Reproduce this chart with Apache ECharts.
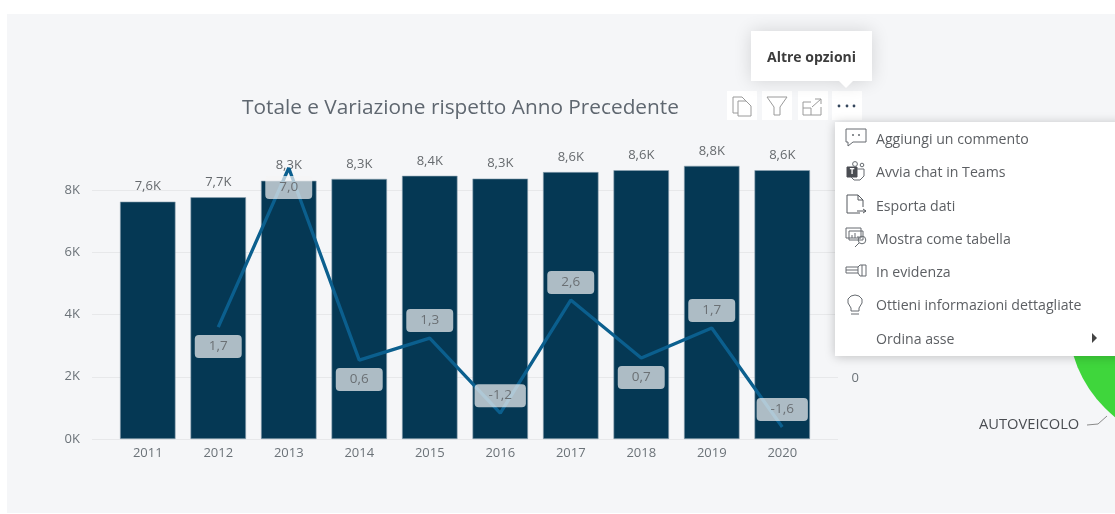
<!DOCTYPE html>
<html>
<head>
<meta charset="utf-8">
<style>html,body{margin:0;padding:0;background:#fff}#c{width:1115px;height:514px}</style>
<script src="https://cdn.jsdelivr.net/npm/echarts@6/dist/echarts.min.js"></script>
</head>
<body>
<div id="c"></div>
<script>
const years = ['2011','2012','2013','2014','2015','2016','2017','2018','2019','2020'];
const totals = [7630,7770,8300,8360,8460,8370,8580,8640,8780,8640];
const totalLabels = ['7,6K','7,7K','8,3K','8,3K','8,4K','8,3K','8,6K','8,6K','8,8K','8,6K'];
const changes = [null,1.7,7.0,0.6,1.33,-1.17,2.6,0.67,1.67,-1.63];
const changeLabels = ['','1,7','7,0','0,6','1,3','-1,2','2,6','0,7','1,7','-1,6'];
const labelsBelow = ['2012','2013','2014','2018'];
const menuItems = ['Aggiungi un commento','Avvia chat in Teams','Esporta dati','Mostra come tabella','In evidenza','Ottieni informazioni dettagliate','Ordina asse'];
const pieSlices = [{name:'AUTOVEICOLO',value:1}];

const FONT = '"Open Sans", sans-serif';
const chart = echarts.init(document.getElementById('c'));
const Z = 50;
const ic = '#666b70';
const line = (pts, c, w) => ({type:'polyline', z:Z+2, shape:{points:pts}, style:{fill:null, stroke:c||ic, lineWidth:w||1}});
const rect = (x,y,w,h,s) => ({type:'rect', z:Z+2, shape:{x,y,width:w,height:h}, style:Object.assign({fill:null,stroke:ic,lineWidth:1},s||{})});
const circ = (cx,cy,r,s) => ({type:'circle', z:Z+2, shape:{cx,cy,r}, style:Object.assign({fill:null,stroke:ic,lineWidth:1},s||{})});
const box = (x,y,w,h,s,z) => ({type:'rect', z:z||Z, shape:{x,y,width:w,height:h}, style:Object.assign({fill:'#fff'},s||{})});
const txt = (x,y,t,s) => ({type:'text', z:Z+2, x, y, style:Object.assign({text:t,fontFamily:FONT,fontSize:14.15,fill:'#5c5f63',verticalAlign:'middle'},s||{})});
const menuY = [140,173,206.5,240,273,306,340];

const graphics = [
  {type:'rect', z:-10, shape:{x:7,y:14,width:1108,height:499}, style:{fill:'#f5f6f8'}},
  // toolbar buttons
  box(727,91,30,29), box(762,91,30,29), box(798,91,30,29), box(832,91,30,29),
  // copy icon
  line([[738,113],[733,113],[733,97],[742,97],[746,101]],'#9a9a9a'),
  line([[738,101],[746,101],[751,106],[751,116],[738,116],[738,101]],'#9a9a9a'),
  // filter icon
  line([[767,97],[787,97],[780,107],[780,115],[774,115],[774,107],[767,97]],'#9a9a9a'),
  // focus icon
  line([[811,102],[803,102],[803,115],[821,115],[821,107]],'#9a9a9a'),
  line([[803,108],[811,108],[811,115]],'#9a9a9a'),
  line([[812,107],[821,99]],'#9a9a9a'), line([[815,99],[821,99],[821,104]],'#9a9a9a'),
  // dots
  circ(839,106,1.4,{fill:'#34465c',stroke:null}), circ(847,106,1.4,{fill:'#34465c',stroke:null}), circ(854,106,1.4,{fill:'#34465c',stroke:null}),
  // tooltip
  {type:'polygon', z:Z, shape:{points:[[751,31],[872,31],[872,81],[853,81],[846,88],[839,81],[751,81]]},
    style:{fill:'#fff',shadowBlur:18,shadowColor:'rgba(0,0,0,0.14)'}},
  txt(811.5,58,'Altre opzioni',{fontSize:14,fontWeight:'bold',fill:'#3c3c3c',align:'center'}),
  // menu
  box(835,122,290,234,{shadowBlur:10,shadowColor:'rgba(0,0,0,0.22)',shadowOffsetY:1}),
  // comment icon
  line([[848,142],[846,142],[846,129],[866,129],[866,142],[853,142],[848,146],[848,142]]),
  circ(853,135,1,{fill:ic,stroke:null}), circ(859,135,1,{fill:ic,stroke:null}),
  // teams icon
  rect(847,167,10,10,{fill:'#4a4d52',stroke:'#4a4d52'}),
  txt(852,172,'T',{fontSize:8,fontWeight:'bold',fill:'#fff',align:'center'}),
  circ(855,164,2.4), circ(862,165,1.8),
  line([[857,169],[864,169],[864,176],[860,180],[854,180],[851,177]]),
  // export icon
  line([[860,213],[847,213],[847,195],[858,195],[863,200],[863,207]],'#55595e'),
  line([[858,195],[858,200],[863,200]],'#55595e'),
  line([[857,211],[866,211]],'#55595e'), line([[863,209],[866,211],[863,213]],'#55595e'),
  // table icon
  rect(846,228,15,10), rect(849,231,14,9),
  line([[852,238],[852,235]]), line([[855,238],[855,233]]), line([[858,238],[858,236]]),
  circ(862,240,3.8), line([[859,243],[855,247]]),
  // flashlight icon
  rect(846,267,12,6,{fill:'#fff'}), line([[846,270],[858,270]]),
  line([[858,267],[860,265],[866,265],[866,276],[860,276],[858,273]]), line([[862,265],[862,276]]),
  // bulb icon
  line([[851,311],[851,308],[848,303],[848,299],[851,296],[855,295],[859,296],[862,299],[862,303],[859,308],[859,311],[851,311]]),
  line([[851,314],[859,314]]),
  // submenu arrow
  {type:'polygon', z:Z+2, shape:{points:[[1092,333],[1097,338],[1092,343]]}, style:{fill:'#444'}},
  // pie label
  txt(979,424.5,pieSlices[0].name,{fill:'#4a4d52',fontSize:14.7}),
  line([[1087,425],[1098,424],[1107,416]],'#8a8a8a')
];
menuItems.forEach((t,i)=>graphics.push(txt(876,menuY[i],t)));

chart.setOption({
  animation:false,
  backgroundColor:'#fff',
  textStyle:{fontFamily:FONT},
  title:{text:'Totale e Variazione rispetto Anno Precedente', left:237, top:93,
    textStyle:{fontFamily:FONT,fontSize:20.8,fontWeight:'normal',color:'#5f6770'}},
  grid:[
    {left:92,width:746,top:190,height:249},
    {left:112.5,width:705,top:159,height:280}
  ],
  xAxis:[
    {gridIndex:0,type:'category',data:[],show:false},
    {gridIndex:1,type:'category',data:years,
      axisLine:{show:false},axisTick:{show:false},
      axisLabel:{color:'#6b7278',fontSize:13,margin:8,fontFamily:FONT}}
  ],
  yAxis:[
    {gridIndex:0,type:'value',min:0,max:8000,interval:2000,position:'left',
      axisLine:{show:false},axisTick:{show:false},
      splitLine:{lineStyle:{color:'#e7e8ea',width:1}},
      axisLabel:{color:'#6b7278',fontSize:13,margin:12,fontFamily:FONT,padding:[3,0,0,0],
        formatter:v=>(v/1000)+'K'}},
    {gridIndex:1,type:'value',min:0,max:9000,show:false,splitLine:{show:false}},
    {gridIndex:1,type:'value',min:-2.03,max:7.3,position:'right',offset:26,
      axisLine:{show:false},axisTick:{show:false},splitLine:{show:false},
      axisLabel:{color:'#6b7278',fontSize:13,margin:8,fontFamily:FONT,padding:[3,0,0,0],customValues:[0]}}
  ],
  series:[
    {type:'bar',name:'Totale',xAxisIndex:1,yAxisIndex:1,data:totals,barWidth:55.5,z:2,
      itemStyle:{color:'#053854',borderColor:'#8fa5b3',borderWidth:0.6},
      label:{show:true,position:'top',distance:8.5,color:'#666a6e',fontSize:13,fontFamily:FONT,
        formatter:p=>totalLabels[p.dataIndex]}},
    {type:'line',name:'Variazione',xAxisIndex:1,yAxisIndex:2,z:3,
      data:changes.map((v,i)=>{
        const below = labelsBelow.includes(years[i]);
        return {value:v,label:{position:below?'bottom':'top',distance:below?8:6}};
      }),
      symbol:'circle',symbolSize:0.1,showSymbol:true,connectNulls:false,
      lineStyle:{color:'#0b5f8e',width:3.3,join:'bevel'},itemStyle:{color:'#0b5f8e'},
      label:{show:true,color:'#6b7074',fontSize:13.5,fontFamily:FONT,
        backgroundColor:'rgba(245,245,245,0.7)',borderRadius:4,padding:[4.5,14],
        formatter:p=>changeLabels[p.dataIndex]}},
    {type:'pie',name:'Veicoli',center:[1194,319],radius:[0,126],z:1,silent:true,
      data:pieSlices,label:{show:false},labelLine:{show:false},itemStyle:{color:'#3fd63c'}}
  ],
  graphic:graphics
});
</script>
</body>
</html>
